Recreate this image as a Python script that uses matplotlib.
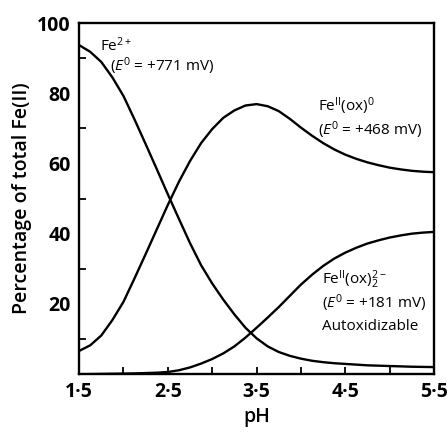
import matplotlib
matplotlib.use('Agg')
import matplotlib.pyplot as plt
from matplotlib.ticker import MultipleLocator

# pH grid and percentage of total Fe(II)
ph = [1.5, 1.625, 1.75, 1.875, 2.0, 2.125, 2.25, 2.375, 2.5, 2.625,
      2.75, 2.875, 3.0, 3.125, 3.25, 3.375, 3.5, 3.625, 3.75, 3.875,
      4.0, 4.125, 4.25, 4.375, 4.5, 4.625, 4.75, 4.875, 5.0, 5.125,
      5.25, 5.375, 5.5]
fe2 = [93.7, 91.8, 88.9, 84.5, 79.2, 72.5, 65.5, 58.4, 51.2, 44.2,
       37.3, 31.0, 25.8, 21.2, 17.0, 13.2, 10.2, 7.9, 6.3, 5.2,
       4.4, 3.8, 3.4, 3.1, 2.9, 2.7, 2.5, 2.4, 2.3, 2.2,
       2.1, 2.05, 2.0]
fe_ox = [6.6, 8.2, 11.0, 15.4, 20.6, 27.3, 34.2, 41.2, 48.2, 54.8,
         60.7, 65.8, 69.8, 73.0, 75.1, 76.5, 76.9, 76.3, 74.9, 72.7,
         70.2, 67.9, 65.8, 64.0, 62.5, 61.3, 60.3, 59.5, 58.8, 58.3,
         57.9, 57.65, 57.5]
fe_ox2 = [0.0, 0.0, 0.05, 0.1, 0.15, 0.2, 0.3, 0.4, 0.6, 1.1,
          1.9, 3.0, 4.3, 5.9, 7.9, 10.4, 13.2, 16.1, 19.1, 22.3,
          25.5, 28.3, 30.8, 32.9, 34.6, 36.0, 37.2, 38.1, 38.9, 39.5,
          40.0, 40.3, 40.5]

xticks = [1.5, 2.5, 3.5, 4.5, 5.5]
xlabels = ['1·5', '2·5', '3·5', '4·5', '5·5']
yticks = [20, 40, 60, 80, 100]

plt.rcParams['font.family'] = ['Open Sans', 'DejaVu Sans']
plt.rcParams['mathtext.fontset'] = 'custom'
plt.rcParams['mathtext.rm'] = 'Open Sans'
plt.rcParams['mathtext.it'] = 'Open Sans:italic'
plt.rcParams['mathtext.bf'] = 'Open Sans:bold'

fig = plt.figure(figsize=(4.47, 4.34), dpi=100)
ax = fig.add_axes([0.177, 0.138, 0.794, 0.809])

for y in (fe2, fe_ox, fe_ox2):
    ax.plot(ph, y, color='black', lw=1.7, solid_joinstyle='round')

ax.set_xlim(1.5, 5.5)
ax.set_ylim(0, 100)
ax.set_xticks(xticks)
ax.set_xticklabels(xlabels)
ax.set_yticks(yticks)
ax.xaxis.set_minor_locator(MultipleLocator(0.5))
ax.yaxis.set_minor_locator(MultipleLocator(10))
ax.tick_params(which='both', direction='in', width=1.3, labelsize=14)
ax.tick_params(axis='x', which='major', length=5, pad=6)
ax.tick_params(axis='y', which='major', length=0, pad=6)
ax.tick_params(which='minor', length=5)
for lab in ax.get_xticklabels() + ax.get_yticklabels():
    lab.set_fontweight('bold')
for s in ax.spines.values():
    s.set_linewidth(1.7)

ax.set_xlabel('pH', fontsize=14, fontweight='semibold', labelpad=3)
ax.set_ylabel('Percentage of total Fe(II)', fontsize=14,
              fontweight='semibold', labelpad=4)

tk = dict(fontsize=11, fontweight='medium', ha='left', va='center')
ax.text(1.73, 93.5, r'Fe$^{2+}$', **tk)
ax.text(1.85, 87.7, r'($E^0$ = +771 mV)', **tk)
ax.text(4.19, 76.3, r'Fe$^{\mathrm{II}}$(ox)$^0$', **tk)
ax.text(4.19, 69.6, r'($E^0$ = +468 mV)', **tk)
ax.text(4.24, 27.0, r'Fe$^{\mathrm{II}}$(ox)$_2^{2-}$', **tk)
ax.text(4.24, 20.3, r'($E^0$ = +181 mV)', **tk)
ax.text(4.24, 13.6, 'Autoxidizable', **tk)

fig.savefig('out.png', dpi=100)
